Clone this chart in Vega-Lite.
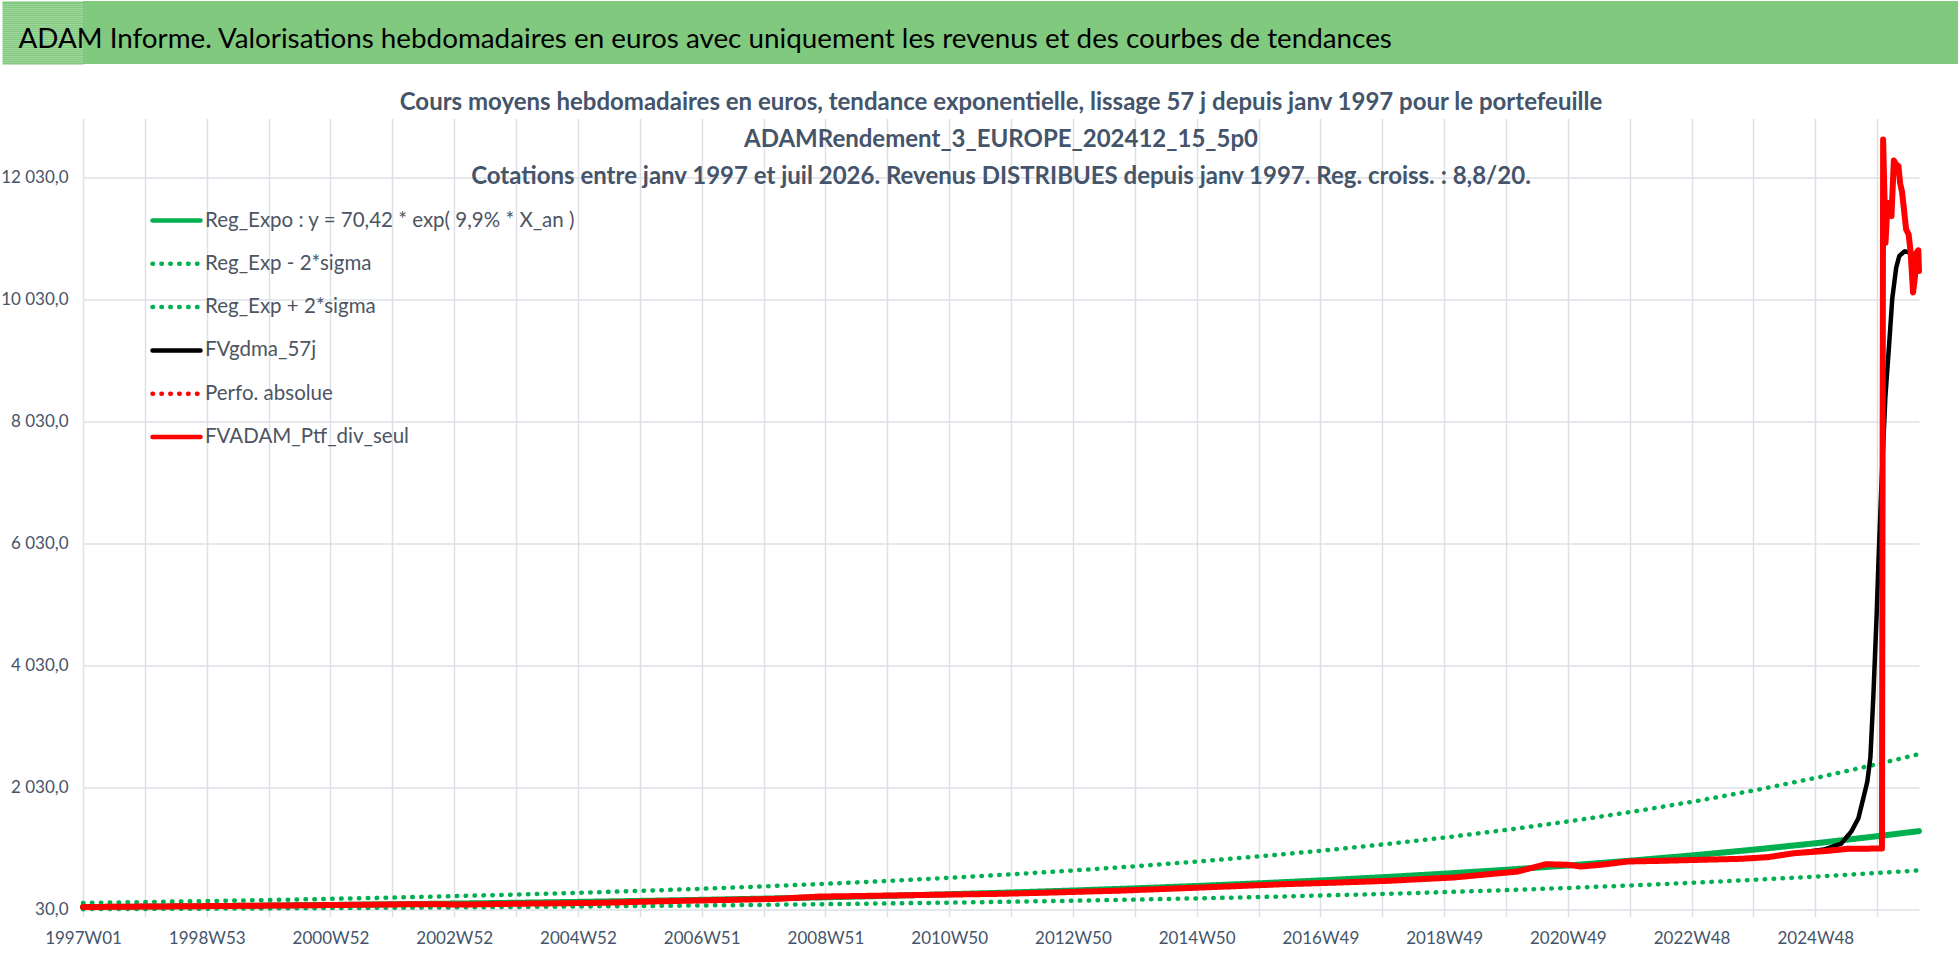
{
  "$schema": "https://vega.github.io/schema/vega-lite/v6.json",
  "padding": 0,
  "background": "#ffffff",
  "columns": 1,
  "spacing": 25.5,
  "align": "none",
  "datasets": {
    "series": [
      {"serie": "Reg_Expo : y = 70,42 * exp( 9,9% *  X_an )", "date": "1996-12-30", "valeur": 70.4},
      {"serie": "Reg_Expo : y = 70,42 * exp( 9,9% *  X_an )", "date": "1998-01-01", "valeur": 77.8},
      {"serie": "Reg_Expo : y = 70,42 * exp( 9,9% *  X_an )", "date": "1999-01-01", "valeur": 85.8},
      {"serie": "Reg_Expo : y = 70,42 * exp( 9,9% *  X_an )", "date": "2000-01-01", "valeur": 94.8},
      {"serie": "Reg_Expo : y = 70,42 * exp( 9,9% *  X_an )", "date": "2001-01-01", "valeur": 104.7},
      {"serie": "Reg_Expo : y = 70,42 * exp( 9,9% *  X_an )", "date": "2002-01-01", "valeur": 115.5},
      {"serie": "Reg_Expo : y = 70,42 * exp( 9,9% *  X_an )", "date": "2003-01-01", "valeur": 127.6},
      {"serie": "Reg_Expo : y = 70,42 * exp( 9,9% *  X_an )", "date": "2004-01-01", "valeur": 140.8},
      {"serie": "Reg_Expo : y = 70,42 * exp( 9,9% *  X_an )", "date": "2005-01-01", "valeur": 155.5},
      {"serie": "Reg_Expo : y = 70,42 * exp( 9,9% *  X_an )", "date": "2006-01-01", "valeur": 171.7},
      {"serie": "Reg_Expo : y = 70,42 * exp( 9,9% *  X_an )", "date": "2007-01-01", "valeur": 189.5},
      {"serie": "Reg_Expo : y = 70,42 * exp( 9,9% *  X_an )", "date": "2008-01-01", "valeur": 209.3},
      {"serie": "Reg_Expo : y = 70,42 * exp( 9,9% *  X_an )", "date": "2009-01-01", "valeur": 231.0},
      {"serie": "Reg_Expo : y = 70,42 * exp( 9,9% *  X_an )", "date": "2010-01-01", "valeur": 255.1},
      {"serie": "Reg_Expo : y = 70,42 * exp( 9,9% *  X_an )", "date": "2011-01-01", "valeur": 281.6},
      {"serie": "Reg_Expo : y = 70,42 * exp( 9,9% *  X_an )", "date": "2012-01-01", "valeur": 311.0},
      {"serie": "Reg_Expo : y = 70,42 * exp( 9,9% *  X_an )", "date": "2013-01-01", "valeur": 343.3},
      {"serie": "Reg_Expo : y = 70,42 * exp( 9,9% *  X_an )", "date": "2014-01-01", "valeur": 379.1},
      {"serie": "Reg_Expo : y = 70,42 * exp( 9,9% *  X_an )", "date": "2015-01-01", "valeur": 418.5},
      {"serie": "Reg_Expo : y = 70,42 * exp( 9,9% *  X_an )", "date": "2016-01-01", "valeur": 462.1},
      {"serie": "Reg_Expo : y = 70,42 * exp( 9,9% *  X_an )", "date": "2017-01-01", "valeur": 510.0},
      {"serie": "Reg_Expo : y = 70,42 * exp( 9,9% *  X_an )", "date": "2018-01-01", "valeur": 563.1},
      {"serie": "Reg_Expo : y = 70,42 * exp( 9,9% *  X_an )", "date": "2019-01-01", "valeur": 621.8},
      {"serie": "Reg_Expo : y = 70,42 * exp( 9,9% *  X_an )", "date": "2020-01-01", "valeur": 686.6},
      {"serie": "Reg_Expo : y = 70,42 * exp( 9,9% *  X_an )", "date": "2021-01-01", "valeur": 758.0},
      {"serie": "Reg_Expo : y = 70,42 * exp( 9,9% *  X_an )", "date": "2022-01-01", "valeur": 836.9},
      {"serie": "Reg_Expo : y = 70,42 * exp( 9,9% *  X_an )", "date": "2023-01-01", "valeur": 924.1},
      {"serie": "Reg_Expo : y = 70,42 * exp( 9,9% *  X_an )", "date": "2024-01-01", "valeur": 1020.3},
      {"serie": "Reg_Expo : y = 70,42 * exp( 9,9% *  X_an )", "date": "2025-01-01", "valeur": 1126.5},
      {"serie": "Reg_Expo : y = 70,42 * exp( 9,9% *  X_an )", "date": "2026-01-01", "valeur": 1243.8},
      {"serie": "Reg_Expo : y = 70,42 * exp( 9,9% *  X_an )", "date": "2026-07-28", "valeur": 1315.4},
      {"serie": "Reg_Exp - 2*sigma", "date": "1996-12-30", "valeur": 35.9},
      {"serie": "Reg_Exp - 2*sigma", "date": "1998-01-01", "valeur": 39.7},
      {"serie": "Reg_Exp - 2*sigma", "date": "1999-01-01", "valeur": 43.8},
      {"serie": "Reg_Exp - 2*sigma", "date": "2000-01-01", "valeur": 48.4},
      {"serie": "Reg_Exp - 2*sigma", "date": "2001-01-01", "valeur": 53.4},
      {"serie": "Reg_Exp - 2*sigma", "date": "2002-01-01", "valeur": 58.9},
      {"serie": "Reg_Exp - 2*sigma", "date": "2003-01-01", "valeur": 65.1},
      {"serie": "Reg_Exp - 2*sigma", "date": "2004-01-01", "valeur": 71.9},
      {"serie": "Reg_Exp - 2*sigma", "date": "2005-01-01", "valeur": 79.3},
      {"serie": "Reg_Exp - 2*sigma", "date": "2006-01-01", "valeur": 87.6},
      {"serie": "Reg_Exp - 2*sigma", "date": "2007-01-01", "valeur": 96.7},
      {"serie": "Reg_Exp - 2*sigma", "date": "2008-01-01", "valeur": 106.8},
      {"serie": "Reg_Exp - 2*sigma", "date": "2009-01-01", "valeur": 117.9},
      {"serie": "Reg_Exp - 2*sigma", "date": "2010-01-01", "valeur": 130.1},
      {"serie": "Reg_Exp - 2*sigma", "date": "2011-01-01", "valeur": 143.7},
      {"serie": "Reg_Exp - 2*sigma", "date": "2012-01-01", "valeur": 158.6},
      {"serie": "Reg_Exp - 2*sigma", "date": "2013-01-01", "valeur": 175.2},
      {"serie": "Reg_Exp - 2*sigma", "date": "2014-01-01", "valeur": 193.4},
      {"serie": "Reg_Exp - 2*sigma", "date": "2015-01-01", "valeur": 213.5},
      {"serie": "Reg_Exp - 2*sigma", "date": "2016-01-01", "valeur": 235.8},
      {"serie": "Reg_Exp - 2*sigma", "date": "2017-01-01", "valeur": 260.2},
      {"serie": "Reg_Exp - 2*sigma", "date": "2018-01-01", "valeur": 287.3},
      {"serie": "Reg_Exp - 2*sigma", "date": "2019-01-01", "valeur": 317.2},
      {"serie": "Reg_Exp - 2*sigma", "date": "2020-01-01", "valeur": 350.3},
      {"serie": "Reg_Exp - 2*sigma", "date": "2021-01-01", "valeur": 386.7},
      {"serie": "Reg_Exp - 2*sigma", "date": "2022-01-01", "valeur": 427.0},
      {"serie": "Reg_Exp - 2*sigma", "date": "2023-01-01", "valeur": 471.5},
      {"serie": "Reg_Exp - 2*sigma", "date": "2024-01-01", "valeur": 520.6},
      {"serie": "Reg_Exp - 2*sigma", "date": "2025-01-01", "valeur": 574.8},
      {"serie": "Reg_Exp - 2*sigma", "date": "2026-01-01", "valeur": 634.6},
      {"serie": "Reg_Exp - 2*sigma", "date": "2026-07-28", "valeur": 671.1},
      {"serie": "Reg_Exp + 2*sigma", "date": "1996-12-30", "valeur": 138.0},
      {"serie": "Reg_Exp + 2*sigma", "date": "1998-01-01", "valeur": 152.4},
      {"serie": "Reg_Exp + 2*sigma", "date": "1999-01-01", "valeur": 168.2},
      {"serie": "Reg_Exp + 2*sigma", "date": "2000-01-01", "valeur": 185.8},
      {"serie": "Reg_Exp + 2*sigma", "date": "2001-01-01", "valeur": 205.1},
      {"serie": "Reg_Exp + 2*sigma", "date": "2002-01-01", "valeur": 226.4},
      {"serie": "Reg_Exp + 2*sigma", "date": "2003-01-01", "valeur": 250.0},
      {"serie": "Reg_Exp + 2*sigma", "date": "2004-01-01", "valeur": 276.0},
      {"serie": "Reg_Exp + 2*sigma", "date": "2005-01-01", "valeur": 304.8},
      {"serie": "Reg_Exp + 2*sigma", "date": "2006-01-01", "valeur": 336.5},
      {"serie": "Reg_Exp + 2*sigma", "date": "2007-01-01", "valeur": 371.4},
      {"serie": "Reg_Exp + 2*sigma", "date": "2008-01-01", "valeur": 410.1},
      {"serie": "Reg_Exp + 2*sigma", "date": "2009-01-01", "valeur": 452.8},
      {"serie": "Reg_Exp + 2*sigma", "date": "2010-01-01", "valeur": 500.0},
      {"serie": "Reg_Exp + 2*sigma", "date": "2011-01-01", "valeur": 552.0},
      {"serie": "Reg_Exp + 2*sigma", "date": "2012-01-01", "valeur": 609.5},
      {"serie": "Reg_Exp + 2*sigma", "date": "2013-01-01", "valeur": 672.9},
      {"serie": "Reg_Exp + 2*sigma", "date": "2014-01-01", "valeur": 743.0},
      {"serie": "Reg_Exp + 2*sigma", "date": "2015-01-01", "valeur": 820.3},
      {"serie": "Reg_Exp + 2*sigma", "date": "2016-01-01", "valeur": 905.7},
      {"serie": "Reg_Exp + 2*sigma", "date": "2017-01-01", "valeur": 999.7},
      {"serie": "Reg_Exp + 2*sigma", "date": "2018-01-01", "valeur": 1103.8},
      {"serie": "Reg_Exp + 2*sigma", "date": "2019-01-01", "valeur": 1218.7},
      {"serie": "Reg_Exp + 2*sigma", "date": "2020-01-01", "valeur": 1345.6},
      {"serie": "Reg_Exp + 2*sigma", "date": "2021-01-01", "valeur": 1485.7},
      {"serie": "Reg_Exp + 2*sigma", "date": "2022-01-01", "valeur": 1640.4},
      {"serie": "Reg_Exp + 2*sigma", "date": "2023-01-01", "valeur": 1811.2},
      {"serie": "Reg_Exp + 2*sigma", "date": "2024-01-01", "valeur": 1999.8},
      {"serie": "Reg_Exp + 2*sigma", "date": "2025-01-01", "valeur": 2208.0},
      {"serie": "Reg_Exp + 2*sigma", "date": "2026-01-01", "valeur": 2437.9},
      {"serie": "Reg_Exp + 2*sigma", "date": "2026-07-28", "valeur": 2578.2},
      {"serie": "FVgdma_57j", "date": "1996-12-30", "valeur": 70},
      {"serie": "FVgdma_57j", "date": "1997-09-01", "valeur": 76},
      {"serie": "FVgdma_57j", "date": "1998-07-01", "valeur": 82},
      {"serie": "FVgdma_57j", "date": "1999-05-01", "valeur": 88},
      {"serie": "FVgdma_57j", "date": "2000-03-21", "valeur": 96},
      {"serie": "FVgdma_57j", "date": "2001-02-01", "valeur": 104},
      {"serie": "FVgdma_57j", "date": "2002-05-12", "valeur": 117},
      {"serie": "FVgdma_57j", "date": "2003-03-15", "valeur": 113},
      {"serie": "FVgdma_57j", "date": "2004-01-20", "valeur": 125},
      {"serie": "FVgdma_57j", "date": "2005-05-16", "valeur": 140},
      {"serie": "FVgdma_57j", "date": "2006-04-22", "valeur": 165},
      {"serie": "FVgdma_57j", "date": "2007-06-26", "valeur": 189},
      {"serie": "FVgdma_57j", "date": "2008-03-01", "valeur": 205},
      {"serie": "FVgdma_57j", "date": "2008-11-19", "valeur": 235},
      {"serie": "FVgdma_57j", "date": "2009-06-01", "valeur": 248},
      {"serie": "FVgdma_57j", "date": "2010-09-14", "valeur": 271},
      {"serie": "FVgdma_57j", "date": "2011-10-13", "valeur": 287},
      {"serie": "FVgdma_57j", "date": "2012-09-01", "valeur": 310},
      {"serie": "FVgdma_57j", "date": "2013-09-19", "valeur": 340},
      {"serie": "FVgdma_57j", "date": "2015-01-02", "valeur": 390},
      {"serie": "FVgdma_57j", "date": "2016-05-04", "valeur": 445},
      {"serie": "FVgdma_57j", "date": "2017-03-01", "valeur": 470},
      {"serie": "FVgdma_57j", "date": "2018-01-05", "valeur": 500},
      {"serie": "FVgdma_57j", "date": "2019-01-29", "valeur": 555},
      {"serie": "FVgdma_57j", "date": "2020-02-10", "valeur": 653},
      {"serie": "FVgdma_57j", "date": "2020-07-24", "valeur": 770},
      {"serie": "FVgdma_57j", "date": "2020-11-30", "valeur": 763},
      {"serie": "FVgdma_57j", "date": "2021-02-15", "valeur": 738},
      {"serie": "FVgdma_57j", "date": "2021-06-12", "valeur": 763},
      {"serie": "FVgdma_57j", "date": "2021-11-18", "valeur": 815},
      {"serie": "FVgdma_57j", "date": "2022-05-31", "valeur": 828},
      {"serie": "FVgdma_57j", "date": "2023-01-21", "valeur": 845},
      {"serie": "FVgdma_57j", "date": "2023-09-14", "valeur": 861},
      {"serie": "FVgdma_57j", "date": "2024-02-20", "valeur": 888},
      {"serie": "FVgdma_57j", "date": "2024-07-22", "valeur": 950},
      {"serie": "FVgdma_57j", "date": "2025-01-17", "valeur": 1014},
      {"serie": "FVgdma_57j", "date": "2025-04-27", "valeur": 1112},
      {"serie": "FVgdma_57j", "date": "2025-06-25", "valeur": 1309},
      {"serie": "FVgdma_57j", "date": "2025-08-05", "valeur": 1522},
      {"serie": "FVgdma_57j", "date": "2025-09-03", "valeur": 1850},
      {"serie": "FVgdma_57j", "date": "2025-09-27", "valeur": 2128},
      {"serie": "FVgdma_57j", "date": "2025-10-15", "valeur": 2522},
      {"serie": "FVgdma_57j", "date": "2025-11-01", "valeur": 3500},
      {"serie": "FVgdma_57j", "date": "2025-11-20", "valeur": 4800},
      {"serie": "FVgdma_57j", "date": "2025-12-01", "valeur": 5700},
      {"serie": "FVgdma_57j", "date": "2025-12-19", "valeur": 7000},
      {"serie": "FVgdma_57j", "date": "2026-01-11", "valeur": 8425},
      {"serie": "FVgdma_57j", "date": "2026-02-04", "valeur": 9366},
      {"serie": "FVgdma_57j", "date": "2026-02-21", "valeur": 10055},
      {"serie": "FVgdma_57j", "date": "2026-03-16", "valeur": 10557},
      {"serie": "FVgdma_57j", "date": "2026-04-03", "valeur": 10745},
      {"serie": "FVgdma_57j", "date": "2026-05-03", "valeur": 10820},
      {"serie": "FVgdma_57j", "date": "2026-06-01", "valeur": 10808},
      {"serie": "FVgdma_57j", "date": "2026-06-25", "valeur": 10620},
      {"serie": "FVgdma_57j", "date": "2026-07-12", "valeur": 10557},
      {"serie": "FVADAM_Ptf_div_seul", "date": "1996-12-30", "valeur": 70},
      {"serie": "FVADAM_Ptf_div_seul", "date": "1997-09-01", "valeur": 76},
      {"serie": "FVADAM_Ptf_div_seul", "date": "1998-07-01", "valeur": 82},
      {"serie": "FVADAM_Ptf_div_seul", "date": "1999-05-01", "valeur": 88},
      {"serie": "FVADAM_Ptf_div_seul", "date": "2000-03-21", "valeur": 96},
      {"serie": "FVADAM_Ptf_div_seul", "date": "2001-02-01", "valeur": 104},
      {"serie": "FVADAM_Ptf_div_seul", "date": "2002-05-12", "valeur": 117},
      {"serie": "FVADAM_Ptf_div_seul", "date": "2003-03-15", "valeur": 112},
      {"serie": "FVADAM_Ptf_div_seul", "date": "2004-01-20", "valeur": 125},
      {"serie": "FVADAM_Ptf_div_seul", "date": "2005-05-16", "valeur": 140},
      {"serie": "FVADAM_Ptf_div_seul", "date": "2006-04-22", "valeur": 165},
      {"serie": "FVADAM_Ptf_div_seul", "date": "2007-06-26", "valeur": 189},
      {"serie": "FVADAM_Ptf_div_seul", "date": "2008-03-01", "valeur": 205},
      {"serie": "FVADAM_Ptf_div_seul", "date": "2008-11-19", "valeur": 243},
      {"serie": "FVADAM_Ptf_div_seul", "date": "2009-06-01", "valeur": 250},
      {"serie": "FVADAM_Ptf_div_seul", "date": "2010-09-14", "valeur": 271},
      {"serie": "FVADAM_Ptf_div_seul", "date": "2011-10-13", "valeur": 287},
      {"serie": "FVADAM_Ptf_div_seul", "date": "2012-09-01", "valeur": 310},
      {"serie": "FVADAM_Ptf_div_seul", "date": "2013-09-19", "valeur": 340},
      {"serie": "FVADAM_Ptf_div_seul", "date": "2015-01-02", "valeur": 390},
      {"serie": "FVADAM_Ptf_div_seul", "date": "2016-05-04", "valeur": 445},
      {"serie": "FVADAM_Ptf_div_seul", "date": "2017-03-01", "valeur": 470},
      {"serie": "FVADAM_Ptf_div_seul", "date": "2018-01-05", "valeur": 500},
      {"serie": "FVADAM_Ptf_div_seul", "date": "2019-01-29", "valeur": 555},
      {"serie": "FVADAM_Ptf_div_seul", "date": "2020-02-10", "valeur": 653},
      {"serie": "FVADAM_Ptf_div_seul", "date": "2020-07-24", "valeur": 773},
      {"serie": "FVADAM_Ptf_div_seul", "date": "2020-11-30", "valeur": 763},
      {"serie": "FVADAM_Ptf_div_seul", "date": "2021-02-15", "valeur": 735},
      {"serie": "FVADAM_Ptf_div_seul", "date": "2021-06-12", "valeur": 763},
      {"serie": "FVADAM_Ptf_div_seul", "date": "2021-11-18", "valeur": 817},
      {"serie": "FVADAM_Ptf_div_seul", "date": "2022-05-31", "valeur": 828},
      {"serie": "FVADAM_Ptf_div_seul", "date": "2023-01-21", "valeur": 845},
      {"serie": "FVADAM_Ptf_div_seul", "date": "2023-09-14", "valeur": 861},
      {"serie": "FVADAM_Ptf_div_seul", "date": "2024-02-20", "valeur": 888},
      {"serie": "FVADAM_Ptf_div_seul", "date": "2024-07-22", "valeur": 953},
      {"serie": "FVADAM_Ptf_div_seul", "date": "2025-02-07", "valeur": 992},
      {"serie": "FVADAM_Ptf_div_seul", "date": "2025-06-05", "valeur": 1025},
      {"serie": "FVADAM_Ptf_div_seul", "date": "2025-12-22", "valeur": 1030},
      {"serie": "FVADAM_Ptf_div_seul", "date": "2025-12-29", "valeur": 12657},
      {"serie": "FVADAM_Ptf_div_seul", "date": "2026-01-12", "valeur": 10964},
      {"serie": "FVADAM_Ptf_div_seul", "date": "2026-01-24", "valeur": 11620},
      {"serie": "FVADAM_Ptf_div_seul", "date": "2026-02-02", "valeur": 11560},
      {"serie": "FVADAM_Ptf_div_seul", "date": "2026-02-16", "valeur": 11400},
      {"serie": "FVADAM_Ptf_div_seul", "date": "2026-03-02", "valeur": 12312},
      {"serie": "FVADAM_Ptf_div_seul", "date": "2026-03-15", "valeur": 12250},
      {"serie": "FVADAM_Ptf_div_seul", "date": "2026-03-29", "valeur": 12220},
      {"serie": "FVADAM_Ptf_div_seul", "date": "2026-04-08", "valeur": 11936},
      {"serie": "FVADAM_Ptf_div_seul", "date": "2026-04-19", "valeur": 11800},
      {"serie": "FVADAM_Ptf_div_seul", "date": "2026-05-01", "valeur": 11500},
      {"serie": "FVADAM_Ptf_div_seul", "date": "2026-05-13", "valeur": 11184},
      {"serie": "FVADAM_Ptf_div_seul", "date": "2026-05-28", "valeur": 11100},
      {"serie": "FVADAM_Ptf_div_seul", "date": "2026-06-09", "valeur": 10800},
      {"serie": "FVADAM_Ptf_div_seul", "date": "2026-06-23", "valeur": 10149},
      {"serie": "FVADAM_Ptf_div_seul", "date": "2026-07-04", "valeur": 10400},
      {"serie": "FVADAM_Ptf_div_seul", "date": "2026-07-14", "valeur": 10800},
      {"serie": "FVADAM_Ptf_div_seul", "date": "2026-07-24", "valeur": 10839},
      {"serie": "FVADAM_Ptf_div_seul", "date": "2026-07-28", "valeur": 10500}
    ]
  },
  "concat": [
    {
      "width": 1876,
      "height": 63,
      "view": {"fill": "#80c97f", "stroke": null},
      "data": {"values": [{"bandeau": "ADAM Informe"}]},
      "mark": {"type": "rect", "color": "#80c97f"},
      "encoding": {
        "y": {
          "datum": 0,
          "type": "quantitative",
          "scale": {"domain": [0, 63], "nice": false, "zero": false},
          "axis": {
            "title": null,
            "labels": false,
            "domain": false,
            "grid": false,
            "ticks": true,
            "values": [1, 3, 5, 7, 9, 11, 13, 15, 17, 19, 21, 23, 25, 27, 29, 31, 33, 35, 37, 39, 41, 43, 45, 47, 49, 51, 53, 55, 57, 59, 61, 62],
            "tickSize": 81,
            "tickWidth": 2.2,
            "tickCap": "butt",
            "tickColor": "#80c97f"
          }
        },
        "y2": {"datum": 63}
      },
      "title": {
        "text": "ADAM Informe. Valorisations hebdomadaires en euros avec uniquement les revenus et des courbes de tendances",
        "anchor": "start",
        "frame": "group",
        "orient": "top",
        "offset": -52.5,
        "dx": -64.5,
        "zindex": 1,
        "fontSize": 27.8,
        "fontWeight": "normal",
        "color": "#000000"
      }
    },
    {
      "width": 1836,
      "height": 791,
      "data": {"name": "series"},
      "title": {
        "text": [
          "Cours moyens hebdomadaires  en euros, tendance exponentielle, lissage 57 j depuis janv 1997 pour le portefeuille",
          "ADAMRendement_3_EUROPE_202412_15_5p0",
          "Cotations entre janv 1997 et juil 2026. Revenus DISTRIBUES depuis janv 1997. Reg. croiss. : 8,8/20."
        ],
        "anchor": "middle",
        "frame": "group",
        "orient": "top",
        "offset": -70.5,
        "lineHeight": 37,
        "fontSize": 24,
        "fontWeight": "bold",
        "color": "#44546a"
      },
      "encoding": {
        "x": {
          "field": "date",
          "type": "temporal",
          "scale": {
            "type": "utc",
            "domain": [
              {"year": 1996, "month": 12, "date": 30, "utc": true},
              {"year": 2026, "month": 7, "date": 28, "utc": true}
            ]
          },
          "axis": {
            "title": null,
            "values": [
              {"year": 1996, "month": 12, "date": 30, "utc": true},
              {"year": 1997, "month": 12, "date": 29, "utc": true},
              {"year": 1998, "month": 12, "date": 28, "utc": true},
              {"year": 1999, "month": 12, "date": 27, "utc": true},
              {"year": 2000, "month": 12, "date": 25, "utc": true},
              {"year": 2001, "month": 12, "date": 24, "utc": true},
              {"year": 2002, "month": 12, "date": 23, "utc": true},
              {"year": 2003, "month": 12, "date": 22, "utc": true},
              {"year": 2004, "month": 12, "date": 20, "utc": true},
              {"year": 2005, "month": 12, "date": 19, "utc": true},
              {"year": 2006, "month": 12, "date": 18, "utc": true},
              {"year": 2007, "month": 12, "date": 17, "utc": true},
              {"year": 2008, "month": 12, "date": 15, "utc": true},
              {"year": 2009, "month": 12, "date": 14, "utc": true},
              {"year": 2010, "month": 12, "date": 13, "utc": true},
              {"year": 2011, "month": 12, "date": 12, "utc": true},
              {"year": 2012, "month": 12, "date": 10, "utc": true},
              {"year": 2013, "month": 12, "date": 9, "utc": true},
              {"year": 2014, "month": 12, "date": 8, "utc": true},
              {"year": 2015, "month": 12, "date": 7, "utc": true},
              {"year": 2016, "month": 12, "date": 5, "utc": true},
              {"year": 2017, "month": 12, "date": 4, "utc": true},
              {"year": 2018, "month": 12, "date": 3, "utc": true},
              {"year": 2019, "month": 12, "date": 2, "utc": true},
              {"year": 2020, "month": 11, "date": 30, "utc": true},
              {"year": 2021, "month": 11, "date": 29, "utc": true},
              {"year": 2022, "month": 11, "date": 28, "utc": true},
              {"year": 2023, "month": 11, "date": 27, "utc": true},
              {"year": 2024, "month": 11, "date": 25, "utc": true},
              {"year": 2025, "month": 11, "date": 24, "utc": true}
            ],
            "labelExpr": "round((datum.value - 851904000000) / 31449600000) % 2 == 0 ? utcFormat(datum.value, '%GW%V') : ''",
            "labelOverlap": false,
            "labelFlush": false,
            "grid": true,
            "domain": false,
            "ticks": true,
            "tickSize": 7,
            "tickColor": "#dde1e7",
            "tickWidth": 1.5,
            "labelPadding": 14,
            "labelFontSize": 17
          }
        },
        "y": {
          "field": "valeur",
          "type": "quantitative",
          "scale": {"domain": [30, 13000], "nice": false, "zero": false},
          "axis": {
            "title": null,
            "values": [30, 2030, 4030, 6030, 8030, 10030, 12030],
            "labelExpr": "replace(replace(format(datum.value, ',.1f'), ',', ' '), '.', ',')",
            "grid": true,
            "domain": false,
            "ticks": true,
            "tickSize": 82,
            "tickColor": "#ffffff",
            "labelPadding": -67,
            "labelFontSize": 17
          }
        },
        "color": {
          "field": "serie",
          "type": "nominal",
          "scale": {
            "domain": ["Reg_Expo : y = 70,42 * exp( 9,9% *  X_an )", "Reg_Exp - 2*sigma", "Reg_Exp + 2*sigma", "FVgdma_57j", "Perfo. absolue", "FVADAM_Ptf_div_seul"],
            "range": ["#00b050", "#00b050", "#00b050", "#000000", "#ff0000", "#ff0000"]
          },
          "legend": {"title": null, "encode": {"symbols": {"update": {"strokeCap": {"value": "round"}}}}}
        },
        "strokeDash": {
          "field": "serie",
          "type": "nominal",
          "scale": {
            "domain": ["Reg_Expo : y = 70,42 * exp( 9,9% *  X_an )", "Reg_Exp - 2*sigma", "Reg_Exp + 2*sigma", "FVgdma_57j", "Perfo. absolue", "FVADAM_Ptf_div_seul"],
            "range": [[1, 0], [0.5, 8.4], [0.5, 8.4], [1, 0], [0.5, 8.4], [1, 0]]
          },
          "legend": {"title": null, "encode": {"symbols": {"update": {"strokeCap": {"value": "round"}}}}}
        }
      },
      "layer": [
        {
          "transform": [{"filter": {"field": "serie", "equal": "Reg_Expo : y = 70,42 * exp( 9,9% *  X_an )"}}],
          "mark": {"type": "line", "strokeWidth": 6, "strokeCap": "round", "strokeJoin": "round"}
        },
        {
          "transform": [{"filter": {"field": "serie", "oneOf": ["Reg_Exp - 2*sigma", "Reg_Exp + 2*sigma"]}}],
          "mark": {"type": "line", "strokeWidth": 4.5, "strokeCap": "round", "strokeJoin": "round"}
        },
        {
          "transform": [{"filter": {"field": "serie", "equal": "FVgdma_57j"}}],
          "mark": {"type": "line", "strokeWidth": 4.5, "strokeCap": "round", "strokeJoin": "round"}
        },
        {
          "transform": [{"filter": {"field": "serie", "equal": "FVADAM_Ptf_div_seul"}}],
          "mark": {"type": "line", "strokeWidth": 6, "strokeCap": "round", "strokeJoin": "round"}
        }
      ]
    }
  ],
  "config": {
    "font": "Lato",
    "view": {"stroke": null},
    "axis": {
      "labelFont": "Lato",
      "labelColor": "#44546a",
      "gridColor": "#dde1e7",
      "gridWidth": 1.5
    },
    "legend": {
      "orient": "none",
      "legendX": 67,
      "legendY": 193,
      "padding": 0,
      "symbolType": "stroke",
      "symbolSize": 2304,
      "symbolStrokeWidth": 4.5,
      "labelFont": "Lato",
      "labelFontSize": 20.5,
      "labelColor": "#4d5563",
      "labelLimit": 800,
      "labelOffset": 2,
      "rowPadding": 6.3
    },
    "title": {"font": "Lato"}
  }
}
